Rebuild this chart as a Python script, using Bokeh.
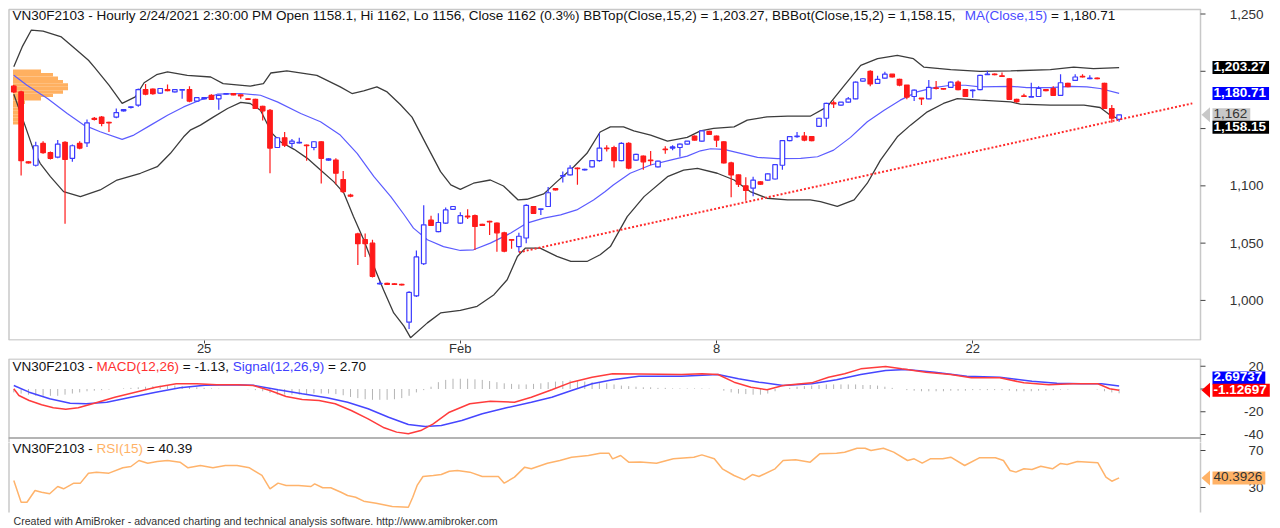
from bokeh.plotting import figure
from bokeh.models import (Range1d, FixedTicker, Label, Title, PolyAnnotation, BoxAnnotation,
                          ColumnDataSource)
from bokeh.layouts import column
from bokeh.embed import file_html
from bokeh.resources import INLINE
from bokeh.core.properties import value

FONT = "Liberation Sans"

# ---------------- data ----------------
OPEN = [1187,1182,1121,1118,1137,1129,1125,1138,1124,1137,
        1137.5,1159,1160,1155.5,1160,1165.5,1168.5,1170.5,1184,1184.5,
        1181,1184,1182,1183.5,1184,1174,1176,1179,1176,1180,
        1180.5,1179.5,1176,1175.5,1169.5,1166,1133.5,1142,1137,1137.5,
        1135.5,1133.5,1138.5,1122.5,1122.5,1105.5,1092,1058,1053,1050,
        1014.5,1015,1014.5,1014,981,1004,1032,1070,1060,1067.5,
        1079.5,1067.5,1073.5,1074,1066.5,1069,1067.5,1059,1053,1047,
        1054.5,1082,1079.5,1082,1097.5,1108.5,1109.5,1115.5,1114,1116.5,
        1122,1133,1133.5,1122,1137,1122.5,1126,1122.5,1116.5,1132,
        1133,1133.5,1136.5,1143.5,1139,1147.5,1143.5,1138.5,1120,1109.5,
        1100,1098,1103.5,1105,1106,1118,1139.5,1143,1143.5,1143,
        1152,1159,1172.5,1170.5,1173,1176,1191.5,1200,1189.5,1194,
        1197.5,1193,1188,1178,1176.5,1176,1185.5,1185,1186,1190.5,
        1184,1183,1184,1197,1197.5,1196,1193.5,1175.5,1178.5,1177.5,
        1178,1184,1185,1179,1189.5,1192,1195.5,1193.5,1194,1189.5,
        1167.5,1158.1]
HIGH = [1188,1183,1121.5,1138.5,1139,1130,1140,1139,1136,1139,
        1158,1160,1161,1156,1167.5,1167,1169.5,1185,1189,1185,
        1185.5,1188.5,1184.5,1184,1187,1177.5,1177.5,1180,1179.5,1181,
        1181,1179.5,1176.5,1176,1170,1167,1142.5,1147,1141,1142,
        1136,1139,1139,1124,1124,1113,1093,1059,1058.5,1053,
        1017,1015.5,1015,1014.5,1008,1043.5,1083,1074,1076,1081,
        1082.5,1077,1079.5,1075,1067,1069.5,1068,1060,1053.5,1059,
        1084,1082.5,1080,1099,1098,1112.5,1118,1116,1115,1122.5,
        1146,1135.5,1135,1138,1138,1128,1126.5,1130.5,1122,1134.5,
        1135.5,1137,1139,1144,1148.5,1148,1144,1139,1121,1110,
        1107.5,1108,1104,1111,1119,1140,1143.5,1147,1147,1143.5,
        1159.5,1172.5,1174.5,1173,1177.5,1191,1194,1201,1196,1199.5,
        1197.5,1193.5,1188,1184,1176.5,1192.5,1191.5,1185.5,1191,1192,
        1184.5,1184,1197,1200.5,1198,1199,1194,1176,1180.5,1190,
        1187,1184.5,1187,1197.5,1190,1197.5,1197.5,1196.5,1194.5,1190,
        1170.5,1162]
LOW = [1181,1109,1119.5,1117,1128,1123,1124,1067,1121,1132,
       1134,1157,1152,1147,1159,1165,1167.5,1169,1179,1179.5,
       1180.5,1182.5,1181.5,1176,1173,1173.5,1175.5,1175,1166.5,1179.5,
       1179,1176,1175,1167,1157,1111,1133,1134,1133.5,1137,
       1122,1131,1102,1122,1101.5,1094,1090,1031,1038,1020,
       1014,1013.5,1013.5,1013,975,1003,1031,1065,1059.5,1067,
       1079,1067,1071,1044,1065,1057,1042.5,1042,1045,1042,
       1050,1075.5,1074.5,1081.5,1096,1103,1109,1101,1113.5,1116,
       1121,1130,1116,1121.5,1114.5,1122,1114,1118,1116,1128,
       1131,1125.5,1136,1139.5,1138.5,1145,1134,1119.5,1090,1099,
       1087,1091,1101,1104.5,1105.5,1114,1139,1142,1139,1139,
       1151.5,1151.5,1168,1170,1172.5,1175.5,1191,1187,1189,1193.5,
       1194.5,1187,1175.5,1174,1170.5,1175.5,1184,1184,1185.5,1183.5,
       1177.5,1177,1183.5,1197,1196.5,1195,1175,1172.5,1177.5,1177.5,
       1178,1182.5,1178.5,1178.5,1186,1192,1194.5,1193,1193,1167,
       1155,1156]
CLOSE = [1182,1122,1120,1135,1129,1124,1136.5,1123,1135,1133,
         1155,1158,1154.5,1155,1164,1166.5,1169,1184,1180,1180.5,
         1185,1183,1184,1184,1174,1177,1177,1175.5,1179,1180.5,
         1179.5,1178.5,1175.5,1167.5,1165.5,1133,1142,1135.5,1139,1138,
         1135,1138.5,1124,1123.5,1111,1095,1091,1049.5,1049.5,1021,
         1015,1014,1014,1013.5,1007,1038,1066,1065.5,1068,1079,
         1082,1074,1073,1064.5,1065.5,1068.5,1059,1043,1052.5,1056,
         1083,1076,1080,1094,1096.5,1109,1115.5,1115,1114.5,1122,
         1133,1132.5,1122,1137,1115.5,1127.5,1121,1122,1121.5,1131.5,
         1134,1136.5,1139,1140,1148,1145,1140,1120,1109.5,1101.5,
         1096,1105,1101.5,1110.5,1118.5,1139.5,1143,1143.5,1140,1139.5,
         1159,1172,1171.5,1173,1176,1190.5,1193.5,1189,1193,1197.5,
         1195,1188,1177.5,1183.5,1176,1186,1185,1184.5,1190.5,1184,
         1178,1183.5,1196.5,1197.5,1197,1195.5,1175.5,1173.5,1178,1178,
         1185,1183,1179,1190,1186.5,1195,1195,1194,1193.5,1167.5,
         1159,1162]

# day ticks (bar index of first bar of the day) and labels
DAY_TICKS = [26, 61, 96, 131]
DAY_LABELS = ["25", "Feb", "8", "22"]

# Bollinger top / bottom and MA(15) sampled along the bars
BB_TOP_X = [0,1.2,2.4,4,6.5,8.5,10.2,11,13,14.8,16.6,17.8,19.5,21,23.7,26.9,28.6,32.3,34.1,35.1,
            37.3,41.4,44.6,46.2,47.8,49.6,51,52.8,54.4,56.5,58.3,59.7,61,62.8,65.1,66.9,68.9,70.1,72.4,74.2,
            76.5,78.3,80.1,81.5,83.3,84.7,87,89.3,92,93.8,95.6,98.4,100.2,102.9,105.7,108.8,111.1,113.3,115.7,118,
            120.7,122.9,124.3,128,132,136.2,141.6,144.8,147.5,151]
BB_TOP_Y = [1204,1222,1236,1235,1230,1219,1209.6,1203.7,1188,1172,1177.7,1190,1197,1199.4,1196.5,1195,1189.3,1187,1189.3,1198.5,
            1200.3,1196.5,1186.4,1180.6,1182.9,1186.4,1182,1171,1160,1134.2,1112.4,1100.8,1097,1102.3,1105.1,1099.9,1087.7,1088.3,1093,1103.7,
            1116.7,1128.4,1147,1151.5,1151.5,1148,1144.3,1139.1,1142.3,1148,1150.1,1151.5,1157.4,1160.2,1160.8,1160.8,1168.9,1186.4,1205.2,1211,
            1213.9,1211,1203.7,1201.5,1200,1200.3,1201.5,1203.7,1202.3,1203.27]
BB_BOT_X = [0,1.6,2.7,3.6,5,6.8,9.1,11.8,14.1,17.3,19.6,21.4,23.2,24.1,25.5,27.3,29.2,31,32.3,33.7,
            34.6,35.3,36.4,38.3,40.1,41.9,43.7,45.1,46.4,47.8,49.2,50.5,51.9,53.3,54.2,56.5,58.3,61,63.3,65.6,
            67.4,68.8,69.9,71.9,74.2,76.1,78.3,80.1,81.5,83.8,86.1,89.3,91.5,93.4,96.1,98.4,100.6,102.9,105.7,108.8,
            110.2,112.5,114.8,116.6,118.4,120.7,122.5,124.8,127,128.9,132,136.2,137.5,141.6,146.2,148.4,149.8,151]
BB_BOT_Y = [1180,1151.5,1131.2,1119.7,1108,1095,1090.6,1096.4,1105.1,1111,1116.7,1128.4,1142.8,1148.6,1153,1160.2,1167.5,1172.8,1171.9,1166,
            1154.5,1145.8,1138.5,1131.9,1124,1113.8,1103.7,1093.6,1073.2,1052.9,1029.7,1009.4,989.1,977.5,967.5,980.4,989.1,991.4,994.9,1005,
            1018,1038.4,1045.7,1045.7,1038.4,1034,1034,1039.9,1047,1073.2,1090.6,1108,1113.8,1115.3,1111,1105.1,1095,1089.2,1087.7,1087.7,
            1086.2,1082,1087.7,1102.3,1122.5,1142.8,1153,1164.6,1171.9,1176.2,1174.8,1173.3,1171.3,1170.4,1170.4,1168.4,1161.7,1158.15]
MA_X = [0,1.8,4.6,7.3,9.6,11.8,14.8,16.4,18.7,21,23.2,25.5,27.8,31,33.7,36,39.2,41.9,44.6,46.9,
        49.2,51.5,53.3,54.6,56.5,58.7,61,62.8,65.1,67.9,70.1,72.4,74.7,76.9,79.2,80.8,81.9,84.2,87,89.7,
        92,93.8,95.2,97,99.3,101.6,104.3,107.5,109.8,112,114.3,116.6,118.9,121.1,123.4,125.7,128,130,132,136.2,
        138.4,141.6,144.4,146.6,148.4,151]
MA_Y = [1196.5,1187.8,1176.2,1163.2,1153,1147.2,1140.6,1144.3,1153,1161.7,1168.9,1175,1180,1180.6,1179.1,1173.3,1163.2,1155.9,1144.3,1128.4,
        1108,1090.6,1075,1063.1,1052.9,1047,1043.6,1044.2,1050,1058.8,1067.5,1071.8,1074.7,1079,1087.7,1095,1100.8,1111,1118.2,1122.5,
        1126,1130.6,1132.4,1131.9,1128.4,1124.9,1123.7,1124,1125.4,1131.2,1142.3,1155.9,1166,1174.8,1182,1185.8,1187.8,1187.8,1186.4,1186.9,
        1185.8,1185.8,1186.9,1186.4,1185,1180.71]

# trend line anchors (bar index, price)
TREND_X = [69, 161]
TREND_Y = [1042, 1172]

# volume-at-price profile (price level, relative volume)
PROFILE_PRICE = [1200,1197,1194,1191,1188,1185,1182,1179,1176,1173,1170,1167,1164,1161,1158,1155]
PROFILE_VOL = [28,40,45,50,55,55,50,40,28,12,10,10,10,10,9,9]

# MACD panel
MACD_X = [0,0.7,2.1,3.8,5.4,7.1,8.8,11,13.8,16.6,19.4,22.2,25,27.7,30.5,32.7,35,37.2,39.4,41.7,
          43.9,46.1,48.4,50.6,52.3,53.9,55.6,57.3,59.5,62.3,65.1,68.4,70.7,73.5,76.2,79,81.8,85.4,91.2,94,
          96.2,98.4,100.7,102.9,105.1,109,111.3,113.5,115.7,119.1,121.3,124.6,128,130.8,134.7,138,141.4,144.7,148.1,149.7,151]
MACD_Y = [0.2,-5.7,-10.1,-13.9,-16.5,-17.7,-16.5,-12.5,-7.2,-2.8,1.6,4.6,4.6,3.7,3.7,3.1,-1.3,-6.6,-9.2,-10.1,
          -13,-18.9,-26.2,-34.1,-37.9,-39.4,-36.5,-30.6,-20.4,-13,-10.7,-11.6,-7.2,-0.7,6,10.4,13.4,13.2,12.7,13.4,
          12.7,6,1.6,-0.7,3.1,5.4,10.4,13.4,17.7,19.8,17.7,14.8,12.7,9.8,9.8,5.4,3.7,4.6,4.6,0.2,-1.13]
SIGNAL_X = [0,2.1,4.9,7.7,9.9,12.7,16,19.4,22.7,26.1,30,32.7,36.1,39.4,42.8,45.6,48.4,51.2,53.9,56.2,
            58.4,61.2,64,67.3,70.7,73.5,76.2,79,81.8,85.4,91.2,96.2,99,101.8,105.1,109,112.4,115.7,119.1,121.9,
            125.8,130.2,134.7,139.1,142.5,145.8,148.6,151]
SIGNAL_Y = [3.1,-2.8,-8.6,-12.5,-13,-11.6,-7.2,-2.8,1,3.3,3.7,3.3,-0.7,-4.2,-7.7,-11.6,-17.4,-24.8,-31.2,-33,
            -32.1,-27.7,-21.8,-16.5,-11.6,-7.2,-1.3,4.6,8.1,11.2,11.3,12.7,9,6,3.1,4.6,8.1,12.7,16.3,17.1,
            14.8,11.3,10.4,6.9,5.1,4.6,4.6,2.7]
HIST = [-3,-4,-5,-6,-6,-6,-6,-5,-4,-3,
        -2,-1.5,-1,-0.5,0,0.5,1,1.5,2,2.5,
        3,3,3,2.5,2,1.5,1,0.5,0.3,0,
        0,0,-0.3,-1,-2,-3.5,-5,-5,-5,-5,
        -4.5,-4,-4,-4,-4.5,-5.5,-7,-8,-9,-9.5,
        -9.5,-9.5,-9,-8,-6,-3,-1,2,6,8,
        9,9,9,8.5,8,7,6,5,4.5,4,
        4,4.5,5,6,6.5,7,7.5,7,6.5,6,
        5.5,5,4,3,2.5,2,1.5,1.5,1,1,
        0.5,0.5,0.5,0.5,0.5,0.3,0,-1.5,-3,-4,
        -4.5,-5,-5,-4,-2,0,1,2,2.5,3,
        3.5,4,4,4,4,4,3.5,3.5,3,2,
        1,0,-1,-1.5,-2,-2,-2,-2,-1.5,-1.5,
        -1.5,-1,-1,-1,-1,-1,-1.5,-2,-2,-2,
        -1.5,-1.5,-1,-0.5,-0.5,0,0,0,-0.5,-2,
        -3,-3.8]

# RSI(15)
RSI_X = [0,1,1.8,2.9,3.8,4.9,6,6.8,8.2,9.1,10.2,11.3,13,14.9,16,17.1,18.3,19.6,21,22.7,
         23.8,25.5,27.2,28.9,30.5,32.2,33.9,35,36.1,37.2,38.9,40.6,41.1,42.2,43.3,44.7,45.6,46.7,47.8,49.5,
         51.7,53.9,54.5,55.1,55.9,57.3,58.4,59.5,60.6,62.3,64,66.2,67,68.4,69.8,70.7,72.9,74.6,76.2,78.5,
         80.1,81.3,81.8,82.9,84,85.6,87.8,90.1,92.9,94,95.7,96.8,98.4,99.8,100.9,101.8,104,105.1,106.8,108.8,
         110.1,112.4,113.5,115.2,116.3,117.1,118.8,120.2,122.1,123,124.1,125.2,126.9,128,129.9,131.9,134.1,135.2,136.1,136.9,
         138,139.1,140.3,141.9,143,143.9,145.3,148.1,149.2,150,151]
RSI_Y = [37.6,14.1,14.1,26.8,24.9,23.2,31.1,28.6,34.7,34.7,45.5,46.6,45.5,51.3,52.7,59.2,56.3,58.1,59.2,57.4,
         51.3,53.8,51.3,53.8,53.8,51.3,43,28.6,34.7,32.2,32.2,31.1,34,29.7,29.7,24.9,21.4,19.5,15.2,13,
         9.5,8.7,19.5,32.2,41.9,43,44,47.6,48.4,46.6,41.9,41.9,34.7,41.2,52,50.2,56.3,59.2,62.8,64.6,
         67.1,67.1,61,64.6,57.4,57.5,56.3,61,62.8,65.3,61,50.2,43,38.3,44,41.9,50.2,59.2,59.9,57.4,
         66.4,67.1,68.2,72.5,72.5,70,72.5,68.2,59.2,61,56.3,61,61,62.8,53.8,62.1,62.1,59.2,48.4,46.6,
         50.2,49.5,53,50.2,56,54.9,58.1,56.7,41.2,36.8,40.39]

# value scale ticks and the tick labels that are visible (others hidden under value tags)
PRICE_TICKS = [1000, 1050, 1100, 1150, 1200, 1250]
PRICE_LABELS = {1000: "1,000", 1050: "1,050", 1100: "1,100", 1250: "1,250"}
MACD_TICKS = [20, 0, -20, -40]
MACD_LABELS = {20: "20", -20: "-20", -40: "-40"}
RSI_TICKS = [70, 30]
RSI_LABELS = {70: "70", 30: "30"}

PRICE_TITLE = [("VN30F2103 - Hourly 2/24/2021 2:30:00 PM Open 1158.1, Hi 1162, Lo 1156, Close 1162 (0.3%) "
                "BBTop(Close,15,2) = 1,203.27, BBBot(Close,15,2) = 1,158.15, ", "#111111"),
               ("MA(Close,15)", "#4b4bff"), (" = 1,180.71", "#111111")]
MACD_TITLE = [("VN30F2103 - ", "#111111"), ("MACD(12,26)", "#ff3030"), (" = -1.13, ", "#111111"),
              ("Signal(12,26,9)", "#4040ff"), (" = 2.70", "#111111")]
RSI_TITLE = [("VN30F2103 - ", "#111111"), ("RSI(15)", "#ffb266"), (" = 40.39", "#111111")]
FOOTER = "Created with AmiBroker - advanced charting and technical analysis software. http://www.amibroker.com"

# ---------------- layout constants (pixels) ----------------
PAGE_W = 1280
BAR0_PX, BAR_PX = 13.3, 7.32        # page x of first bar, px per bar
X0 = (0 - BAR0_PX) / BAR_PX
X1 = (PAGE_W - BAR0_PX) / BAR_PX


def px2x(px):
    return (px - BAR0_PX) / BAR_PX


AX = px2x(1200)        # value-scale line
BOX_L = px2x(8.5)      # left border of panels

# price panel: frame page y 0..341, 1,200 at y=71, 1.149 px per point
P_PX = 1.149
def p_val(py):
    return 1200 - (py - 71) / P_PX
P_Y1, P_Y0 = p_val(0), p_val(341)
# MACD panel: frame 358..442, 0 at y=388.5
M_PX = 1.138
def m_val(py):
    return (388.5 - py) / M_PX
M_Y1, M_Y0 = m_val(358), m_val(442)
# RSI panel: frame 442..512, 70 at y=450
R_PX = 0.925
def r_val(py):
    return 70 - (py - 450) / R_PX
R_Y1, R_Y0 = r_val(442), r_val(512)

AW = {' ':278,',':278,'.':278,'-':333,'/':278,':':278,'(':333,')':333,'%':889,'=':584,
      'A':667,'B':667,'C':722,'D':722,'E':667,'F':611,'G':778,'H':722,'I':278,'J':500,'K':667,
      'L':556,'M':833,'N':722,'O':778,'P':667,'Q':778,'R':722,'S':667,'T':611,'U':722,'V':667,
      'W':944,'X':667,'Y':667,'Z':611,'a':556,'b':556,'c':500,'d':556,'e':556,'f':278,'g':556,
      'h':556,'i':222,'j':222,'k':500,'l':222,'m':833,'n':556,'o':556,'p':556,'q':556,'r':333,
      's':500,'t':278,'u':556,'v':500,'w':722,'x':500,'y':500,'z':500}


def tw(s, size):
    return sum(AW.get(c, 556) for c in s) * size / 1000.0


def base_fig(height, y0, y1, bottom, xaxis):
    p = figure(width=PAGE_W, height=height, x_range=Range1d(X0, X1), y_range=Range1d(y0, y1),
               output_backend="svg", toolbar_location=None, y_axis_location=None,
               x_axis_location=("below" if xaxis else None),
               min_border_left=0, min_border_right=0, min_border_top=0, min_border_bottom=bottom)
    p.grid.visible = False
    p.background_fill_color = "white"
    p.border_fill_color = "white"
    p.outline_line_color = None
    return p


def frame_box(p, val_fn, top_py, bottom_py):
    p.add_layout(BoxAnnotation(left=BOX_L, right=AX, top=val_fn(top_py), bottom=val_fn(bottom_py),
                               fill_color=None, fill_alpha=0, line_color="#4a4a4a", line_width=1.5))


def value_scale(p, ticks, labels):
    p.segment(x0=[AX] * len(ticks), y0=ticks, x1=[px2x(1205)] * len(ticks), y1=ticks,
              line_color="#444444", line_width=1)
    ly = [t for t in ticks if t in labels]
    p.text(x=[px2x(1263)] * len(ly), y=ly, text=[labels[t] for t in ly],
           text_align="right", text_baseline="middle", text_font=value(FONT),
           text_font_size=value("13.5px"), text_color="#333333")


def title_segments(p, segs, x_page, y_data, size=13.5):
    x = x_page
    for text, color in segs:
        lead = len(text) - len(text.lstrip(" "))
        x += tw(" " * lead, size)
        t = text.strip(" ")
        p.add_layout(Label(x=px2x(x), y=y_data, text=t, text_color=color, text_font=FONT,
                           text_font_size=f"{size}px", text_baseline="middle", text_align="left"))
        x += tw(t, size)
        x += tw(" " * (len(text) - len(text.rstrip(" "))), size)


def tag(p, yv, text, bg, fg, px_per_unit, y_shift=0, arrow=False, bold=True):
    p.add_layout(Label(x=px2x(1212), y=yv, y_offset=y_shift, text=text, text_color=fg,
                       text_font=FONT, text_font_size="13.5px",
                       text_font_style=("bold" if bold else "normal"),
                       text_baseline="middle", text_align="left",
                       background_fill_color=bg, padding=(1, 3, 1, 3)))
    if arrow:
        h = 7.5 / px_per_unit
        yc = yv + y_shift / px_per_unit
        p.add_layout(PolyAnnotation(xs=[px2x(1201), px2x(1209.5), px2x(1209.5)],
                                    ys=[yc, yc + h, yc - h], fill_color=bg, fill_alpha=1.0,
                                    line_color=None))


# ---------------- price panel ----------------
p1 = base_fig(358, P_Y0, P_Y1, 17, True)
xa = p1.xaxis[0]
xa.ticker = FixedTicker(ticks=DAY_TICKS)
xa.major_label_overrides = {t: l for t, l in zip(DAY_TICKS, DAY_LABELS)}
xa.minor_tick_line_color = None
xa.major_tick_in = 0
xa.major_tick_out = 3
xa.major_tick_line_color = "#444444"
xa.axis_line_color = None
xa.major_label_standoff = -3
xa.major_label_text_font = FONT
xa.major_label_text_font_size = "13px"
xa.major_label_text_color = "#333333"

# volume profile
prof_left = px2x(12.5)
p1.hbar(y=PROFILE_PRICE, height=3, left=prof_left,
        right=[prof_left + v / BAR_PX for v in PROFILE_VOL],
        fill_color="#ffb060", line_color=None)

idx = list(range(len(CLOSE)))
up = [c >= o for o, c in zip(OPEN, CLOSE)]
src = ColumnDataSource(dict(
    x=idx, o=OPEN, h=HIGH, l=LOW, c=CLOSE,
    top=[max(o, c) for o, c in zip(OPEN, CLOSE)],
    bot=[min(o, c) for o, c in zip(OPEN, CLOSE)],
    col=["#3a3aff" if u else "#ff1a1a" for u in up],
    fill=["white" if u else "#ff1a1a" for u in up]))

p1.line(BB_TOP_X, BB_TOP_Y, line_color="#3c3c3c", line_width=1.3)
p1.line(BB_BOT_X, BB_BOT_Y, line_color="#3c3c3c", line_width=1.3)
p1.line(MA_X, MA_Y, line_color="#5c5cff", line_width=1.2)
p1.segment(x0="x", y0="l", x1="x", y1="h", source=src, line_color="col", line_width=1.2)
p1.vbar(x="x", width=0.62, top="top", bottom="bot", source=src,
        fill_color="fill", line_color="col", line_width=1.2)
p1.line(TREND_X, TREND_Y, line_color="#ff2a2a", line_width=2, line_dash="2 2")

frame_box(p1, p_val, 9, 340.5)
value_scale(p1, PRICE_TICKS, PRICE_LABELS)
title_segments(p1, PRICE_TITLE, 12, p_val(15))
tag(p1, 1203.27, "1,203.27", "#000000", "white", P_PX)
tag(p1, 1180.71, "1,180.71", "#0000ff", "white", P_PX)
tag(p1, 1162, "1,162", "#c8c8c8", "#333333", P_PX, arrow=True, bold=False)
tag(p1, 1158.15, "1,158.15", "#000000", "white", P_PX, y_shift=-8)

# ---------------- MACD panel ----------------
p2 = base_fig(84, M_Y0, M_Y1, 0, False)
p2.segment(x0=idx, y0=[0] * len(HIST), x1=idx, y1=HIST, line_color="#b4b4b4", line_width=1)
p2.line(SIGNAL_X, SIGNAL_Y, line_color="#4646ff", line_width=1.5)
p2.line(MACD_X, MACD_Y, line_color="#ff3c3c", line_width=1.5)
frame_box(p2, m_val, 358.5, 437.5)
frame_box(p2, m_val, 437.5, 460)
value_scale(p2, MACD_TICKS, MACD_LABELS)
title_segments(p2, MACD_TITLE, 12, m_val(365.5))
tag(p2, 2.69737, "2.69737", "#0000ff", "white", M_PX, y_shift=8)
tag(p2, -1.12697, "-1.12697", "#ff0000", "white", M_PX, arrow=True)

# ---------------- RSI panel ----------------
p3 = base_fig(86, R_Y0, R_Y1, 16, False)
p3.line(RSI_X, RSI_Y, line_color="#ffb36b", line_width=1.5)
frame_box(p3, r_val, 430, 530)
value_scale(p3, RSI_TICKS, RSI_LABELS)
title_segments(p3, RSI_TITLE, 12, r_val(447.5))
tag(p3, 40.3926, "40.3926", "#ffb266", "#333333", R_PX, arrow=True, bold=False)
p3.add_layout(Title(text=FOOTER, align="left", offset=13, standoff=0, text_font=FONT,
                    text_font_size="10.6px", text_font_style="normal", text_color="#333333"),
              "below")

layout = column(p1, p2, p3, spacing=0)
open("out.html", "w").write(file_html(layout, INLINE))
